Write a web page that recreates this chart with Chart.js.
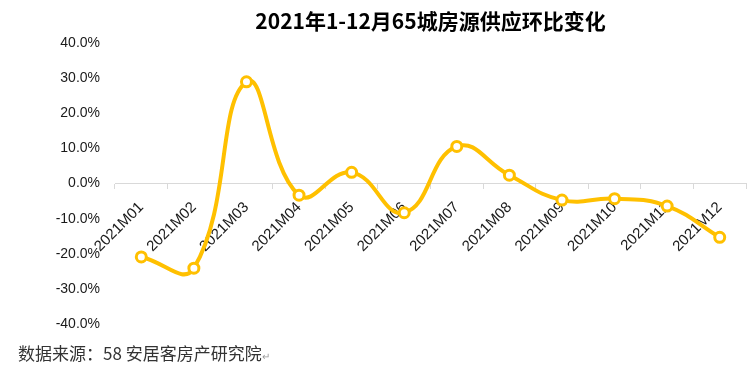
<!DOCTYPE html>
<html>
<head>
<meta charset="utf-8">
<script src="https://cdn.jsdelivr.net/npm/chart.js@4"></script>
<style>
  html, body { margin: 0; padding: 0; background: #fff; }
  #wrap { position: relative; width: 754px; height: 369px; }
  #source {
    position: absolute; left: 18px; top: 340px;
    font-family: "Noto Sans CJK SC", sans-serif; font-size: 17px; color: #333;
  }
  #source span { font-size: 10px; color: #999; }
</style>
</head>
<body>
<div id="wrap">
  <canvas id="myChart" width="754" height="369"></canvas>
  <div id="source">数据来源：58 安居客房产研究院<span>↵</span></div>
</div>
<script>
const months = ["2021M01", "2021M02", "2021M03", "2021M04", "2021M05", "2021M06",
  "2021M07", "2021M08", "2021M09", "2021M10", "2021M11", "2021M12"]
const changePct = [-20.9, -24.1, 29.0, -3.3, 3.2, -8.3, 10.6, 2.4, -4.7, -4.3, -6.4, -15.3]
const yTicks = [-40, -30, -20, -10, 0, 10, 20, 30, 40]

const ctx = document.getElementById('myChart')

new Chart(ctx, {
  type: 'line',
  data: {
    labels: months,
    datasets: [{
      label: "环比",
      data: changePct,
      borderColor: '#FFC000',
      borderWidth: 4,
      backgroundColor: '#ffffff',
      pointBackgroundColor: '#ffffff',
      pointBorderColor: '#FFC000',
      pointBorderWidth: 3,
      pointRadius: 5,
      tension: 0.45
    }]
  },
  options: {
    responsive: false,
    animation: false,
    layout: {
      padding: { top: 3, right: 1, bottom: 45, left: 0 }
    },
    plugins: {
      legend: { display: false },
      tooltip: { enabled: false },
      title: {
        display: true,
        text: "2021年1-12月65城房源供应环比变化",
        fullSize: false,
        color: '#000',
        font: { family: '"Noto Sans CJK SC", sans-serif', size: 21, weight: 'bold' },
        padding: { top: 5, bottom: 10 }
      }
    },
    scales: {
      x: {
        position: { y: 0 },
        offset: true,
        grid: {
          offset: true,
          drawOnChartArea: false,
          drawTicks: true,
          tickLength: 5,
          color: '#d9d9d9'
        },
        border: { color: '#d9d9d9', width: 1 },
        ticks: {
          autoSkip: false,
          minRotation: 45,
          maxRotation: 45,
          color: '#1a1a1a',
          padding: 10,
          font: { family: '"Liberation Sans", sans-serif', size: 15 }
        }
      },
      y: {
        min: -40,
        max: 40,
        afterBuildTicks: (scale) => {
          scale.ticks = yTicks.map(v => ({ value: v }))
        },
        afterFit: (scale) => { scale.width = 115 },
        grid: { display: false },
        border: { display: false },
        ticks: {
          color: '#1a1a1a',
          padding: 7,
          font: { family: '"Liberation Sans", sans-serif', size: 14 },
          callback: (v) => v.toFixed(1) + '%'
        }
      }
    }
  }
});
</script>
</body>
</html>
